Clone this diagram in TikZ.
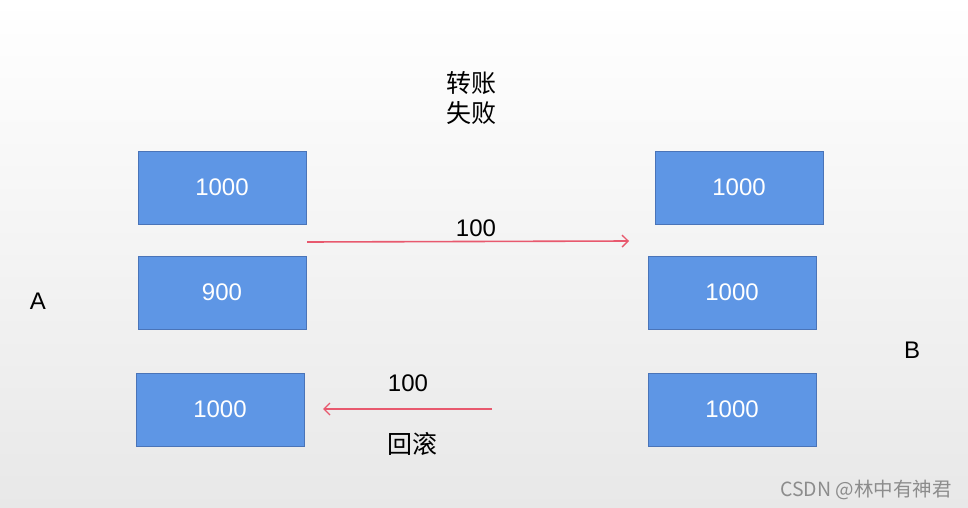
\documentclass[tikz,border=0pt]{standalone}
\usepackage{fontspec}
\setmainfont{Liberation Sans}
\newfontfamily\cjk{Noto Sans CJK SC}
\usetikzlibrary{arrows.meta}
\definecolor{boxfill}{HTML}{5E96E5}
\definecolor{boxedge}{HTML}{4A74B8}
\definecolor{arrowred}{HTML}{E8596E}
\tikzset{
  acct/.style={draw=boxedge, line width=1pt, fill=boxfill, minimum width=168pt, minimum height=73pt, inner sep=0pt, text=white, font=\fontsize{24}{27}\selectfont},
  lbl/.style={inner sep=0pt, font=\fontsize{24}{27}\selectfont},
  cjklbl/.style={inner sep=0pt, font=\cjk\fontsize{25}{30}\selectfont, align=center},
  xfer/.style={draw=arrowred, line width=1.6pt, -{Straight Barb[length=6pt,width=12pt,line width=1.4pt]}}
}
\begin{document}
\begin{tikzpicture}[x=1pt,y=-1pt]
\shade[top color=white, bottom color=black!9] (0,0) rectangle (968,508);
\useasboundingbox (0,0) rectangle (968,508);
\node[acct] (l1) at (222,187.5) {1000};
\node[acct] (l2) at (222,292.5) {900};
\node[acct] (l3) at (220,409.5) {1000};
\node[acct] (r1) at (739,187.5) {1000};
\node[acct] (r2) at (732,292.5) {1000};
\node[acct] (r3) at (732,409.5) {1000};
\coordinate (a1s) at (307,242);
\coordinate (a1e) at (629,241);
\coordinate (a2s) at (492,409);
\coordinate (a2e) at (323,409);
\draw[xfer] (a1s) -- (a1e);
\draw[xfer] (a2s) -- (a2e);
\node[lbl] (m1) at (476,228) {100};
\node[lbl] (m2) at (408,383) {100};
\node[cjklbl] (fail) at (471,98) {转账\\失败};
\node[cjklbl] (rb) at (412,444) {回滚};
\node[lbl] (A) at (38,301) {A};
\node[lbl] (B) at (912,350) {B};
\node[inner sep=0pt, text=black!45, font=\cjk\fontsize{19.5}{22}\selectfont] (wm) at (866,490) {CSDN @林中有神君};
\end{tikzpicture}
\end{document}
